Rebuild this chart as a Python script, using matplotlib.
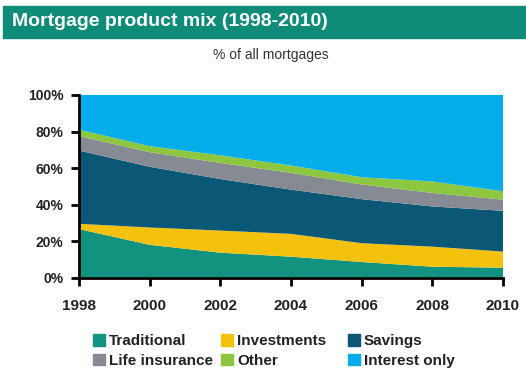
import numpy as np
import matplotlib.pyplot as plt
from matplotlib.patches import Rectangle

plt.rcParams['font.family'] = ['Liberation Sans', 'DejaVu Sans']

years = [1998, 2000, 2002, 2004, 2006, 2008, 2010]
traditional = [26.6, 18.0, 13.7, 11.5, 8.6, 6.0, 5.5]
investments = [2.9, 9.5, 12.1, 12.5, 10.3, 11.0, 8.8]
savings = [40.1, 33.2, 28.2, 24.2, 24.1, 22.0, 22.3]
life_insurance = [7.9, 8.0, 8.8, 9.2, 8.0, 7.4, 6.1]
other = [3.5, 3.3, 4.2, 4.0, 4.0, 6.3, 4.6]
interest_only = [19.0, 28.0, 33.0, 38.6, 45.0, 47.3, 52.7]

labels = ['Traditional', 'Investments', 'Savings', 'Life insurance', 'Other', 'Interest only']
colors = ['#12937f', '#f4c20d', '#0b5776', '#868b93', '#8dc63f', '#05aeea']
y_ticks = [0, 20, 40, 60, 80, 100]
x_ticks = years

fig = plt.figure(figsize=(5.26, 3.72), dpi=100)

# title bar
fig.patches.append(Rectangle((3 / 526, 1 - 38 / 372), 523 / 526, 32 / 372,
                             transform=fig.transFigure, color='#0f8b79', zorder=0))
fig.text(12 / 526, 1 - 22 / 372, 'Mortgage product mix (1998-2010)', color='white',
         fontsize=14, fontweight='bold', va='center', ha='left')
fig.text(271 / 526, 1 - 55 / 372, '% of all mortgages', color='#333333',
         fontsize=10, va='center', ha='center')

ax = fig.add_axes([79 / 526, 1 - 277.7 / 372, 424 / 526, 182.7 / 372])
ax.stackplot(years, traditional, investments, savings, life_insurance, other, interest_only,
             colors=colors, labels=labels, linewidth=0)

ax.set_xlim(1998, 2010)
ax.set_ylim(0, 100)
ax.set_xticks(x_ticks)
ax.set_yticks(y_ticks)
ax.set_yticklabels([f'{v}%' for v in y_ticks])
for side in ['top', 'right']:
    ax.spines[side].set_visible(False)
for side in ['left', 'bottom']:
    ax.spines[side].set_linewidth(2)
    ax.spines[side].set_color('black')
ax.tick_params(axis='both', direction='out', length=6, width=2, color='black')
ax.tick_params(axis='y', labelsize=10, pad=5)
ax.tick_params(axis='x', labelsize=11, pad=9)
for lab in ax.get_xticklabels() + ax.get_yticklabels():
    lab.set_fontweight('bold')
    lab.set_color('#222222')

# legend: three columns, placed like the original
handles = [Rectangle((0, 0), 1, 1, color=c) for c in colors]
col_x = [93, 221, 348]
for k, x0 in enumerate(col_x):
    leg = fig.legend([handles[k], handles[k + 3]], [labels[k], labels[k + 3]],
                     loc='center left', bbox_to_anchor=(x0 / 526, 1 - 351 / 372),
                     frameon=False, prop={'weight': 'bold', 'size': 11},
                     handlelength=0.8, handleheight=0.8, handletextpad=0.25,
                     labelspacing=0.35, borderaxespad=0, borderpad=0)
    for t in leg.get_texts():
        t.set_color('#222222')

fig.savefig('out.png', dpi=100)
